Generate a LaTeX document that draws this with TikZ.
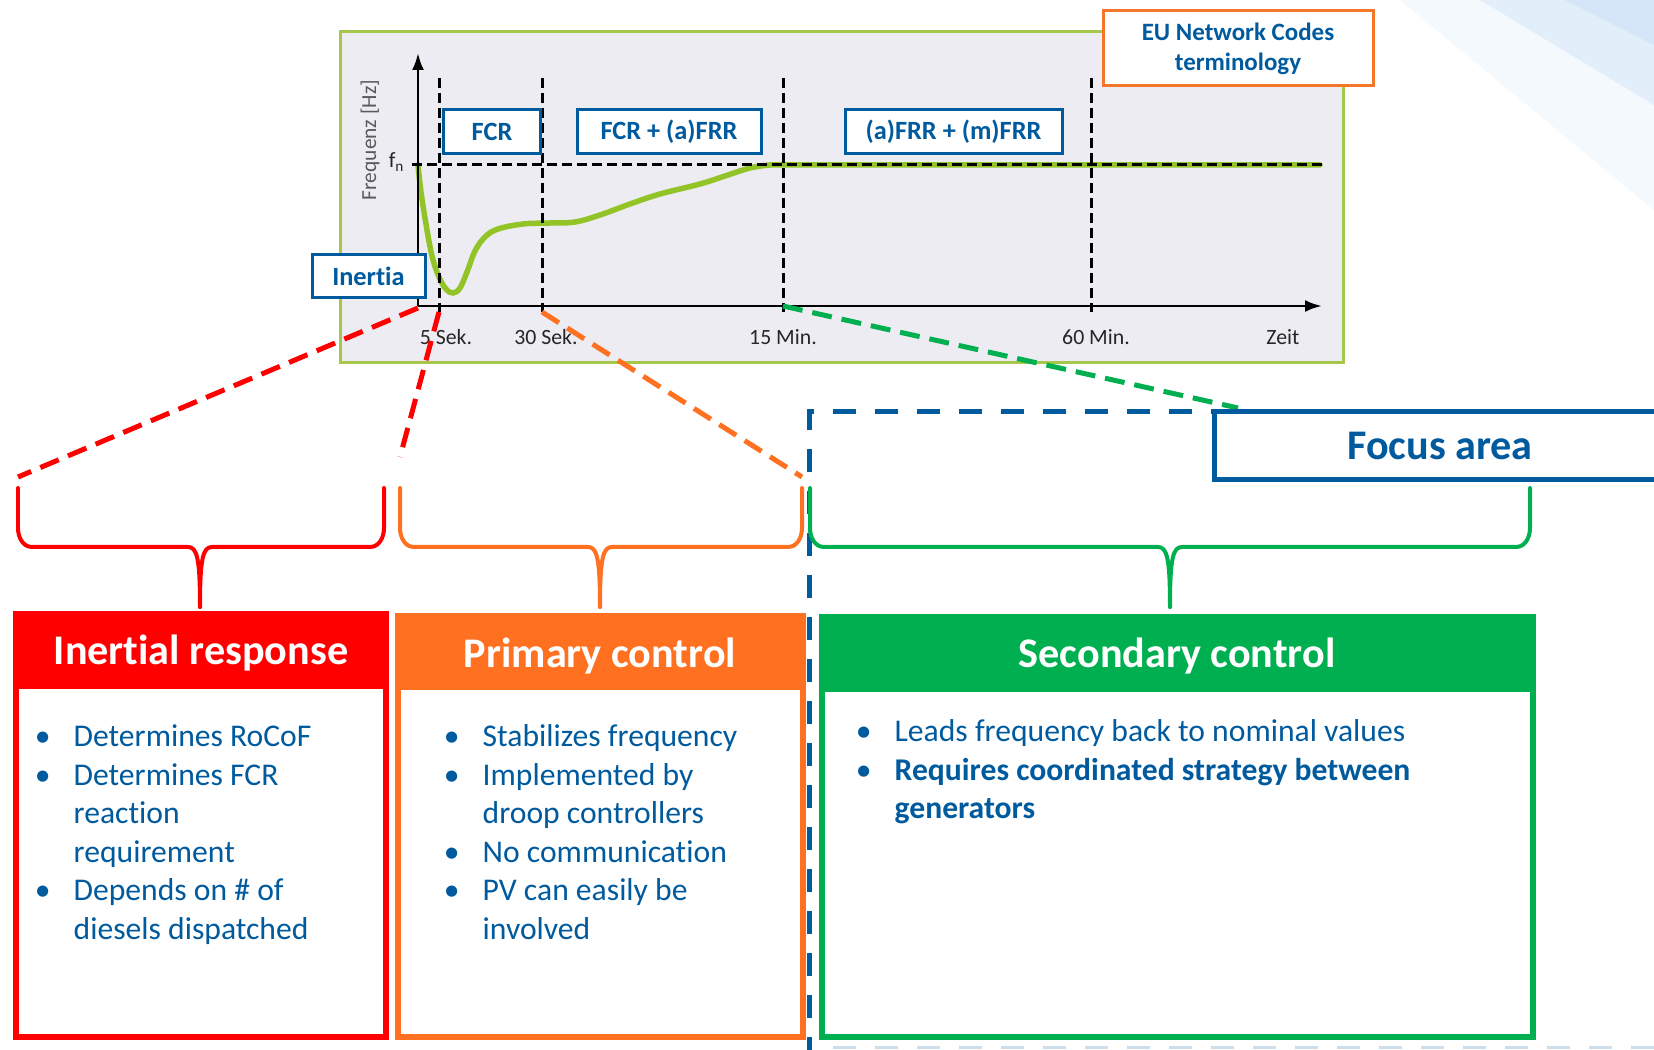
\documentclass[tikz,border=0pt]{standalone}
\usepackage{fontspec}
\setmainfont{Carlito}[Ligatures=CommonOff]
\usetikzlibrary{arrows.meta,calc,positioning}

% Farben
\definecolor{ublue}{RGB}{0,90,158}
\definecolor{cred}{RGB}{255,0,0}
\definecolor{corange}{RGB}{255,113,32}
\definecolor{cgreen}{RGB}{0,176,80}
\definecolor{curvelime}{RGB}{146,196,40}
\definecolor{panelgreen}{RGB}{165,200,75}
\definecolor{panelgray}{RGB}{236,236,242}
\definecolor{euorange}{RGB}{245,118,40}
\definecolor{swoosh}{RGB}{226,238,250}
\definecolor{swooshdark}{RGB}{212,230,247}

\newcommand{\bulletmark}{\makebox[2mm]{\textbullet}}
% geschweifte Klammer: Farbe, links, Mitte, rechts
\newcommand{\curlybrace}[4]{%
  \draw[bracestroke, #1] (#2,488) -- (#2,528) to[out=-90,in=180] (#2+14,547) -- (#3-12,547)
    .. controls (#3-3,547) and (#3,558) .. (#3,607);
  \draw[bracestroke, #1] (#4,488) -- (#4,528) to[out=-90,in=0] (#4-14,547) -- (#3+12,547)
    .. controls (#3+3,547) and (#3,558) .. (#3,607);}

\tikzset{
  chartbox/.style={draw=ublue, line width=0.3mm, fill=white, text=ublue,
    font=\bfseries\fontsize{7.5}{9}\selectfont, minimum height=4.4mm, inner sep=0pt},
  ticklabel/.style={anchor=base, text=black!85, font=\fontsize{6.2}{7}\selectfont},
  gridline/.style={black, line width=0.3mm, dash pattern=on 1mm off 0.5mm},
  zoomline/.style={line width=0.5mm, dash pattern=on 2mm off 1mm},
  bracestroke/.style={line width=0.4mm, line cap=round, line join=round},
  catframe/.style={line width=0.55mm},
  headtext/.style={anchor=base, text=white, font=\bfseries\fontsize{12}{14}\selectfont},
  bullets/.style={anchor=base west, inner sep=0pt, text=ublue, font=\fontsize{9}{10.95}\selectfont},
}

\begin{document}
\begin{tikzpicture}[x=0.1mm, y=-0.1mm]
  % Seitenrahmen
  \useasboundingbox (0,0) rectangle (1654,1050);
  \clip (0,0) rectangle (1654,1050);
  \fill[white] (0,0) rectangle (1654,1050);

  % --- Hintergrund oben rechts ---
  \fill[swoosh, opacity=.35] (1400,0) -- (1654,210) -- (1654,0) -- cycle;
  \fill[swoosh] (1480,0) -- (1654,105) -- (1654,0) -- cycle;
  \fill[swooshdark] (1565,0) -- (1654,45) -- (1654,0) -- cycle;

  % --- Diagramm ---
  \draw[draw=panelgreen, line width=0.3mm, fill=panelgray] (340,32) rectangle (1343,363);

  \coordinate (o) at (418,306);
  \coordinate (s5) at (439,312);
  \coordinate (s30) at (542,312);
  \coordinate (m15) at (783,306);
  \coordinate (m60) at (1091,312);

  % Frequenzverlauf
  \draw[curvelime, line width=0.55mm, line cap=round] plot[smooth, tension=0.6] coordinates {
    (418,165) (421,192) (426,224) (432,256) (439,277) (446,289) (453,293) (460,288)
    (467,272) (475,251) (485,237) (498,229) (523,224) (550,223) (575,222) (600,215)
    (630,204) (660,194) (700,184) (725,176) (750,168) (770,165) (783,165)} -- (1320,165);

  % Hilfslinien
  \draw[gridline] (412,165) -- (1323,165);
  \draw[gridline] (439,78) -- (s5);
  \draw[gridline] (542,78) -- (s30);
  \draw[gridline] (783,78) -- (m15 |- s5);
  \draw[gridline] (1091,78) -- (m60);

  % Achsen
  \draw[line width=0.27mm, -{Latex[length=1.7mm,width=1.2mm]}] (o) -- (1322,306);
  \draw[line width=0.27mm, -{Latex[length=1.7mm,width=1.2mm]}] (o) -- (418,53);

  \node[rotate=90, text=black!65, font=\fontsize{6.1}{7}\selectfont] (ylabel) at (370,140) {Frequenz [Hz]};
  \node[anchor=base, text=black!85, font=\fontsize{6.2}{7}\selectfont] (fn) at (397,168) {f\textsubscript{n}};

  \node[ticklabel] (t5) at (446,345) {5 Sek.};
  \node[ticklabel] (t30) at (546,345) {30 Sek.};
  \node[ticklabel] (t15) at (783,345) {15 Min.};
  \node[ticklabel] (t60) at (1096,345) {60 Min.};
  \node[ticklabel] (zeit) at (1283,345) {Zeit};

  % Beschriftungen im Diagramm
  \node[chartbox, minimum width=9.7mm] (fcr) at (492,132) {FCR};
  \node[chartbox, minimum width=18.4mm] (fcrafrr) at (669,132) {FCR + (a)FRR};
  \node[chartbox, minimum width=21.7mm] (afrrmfrr) at (953.5,132) {(a)FRR + (m)FRR};
  \node[chartbox, minimum width=11.3mm, minimum height=4.3mm] (inertia) at (368.5,276) {Inertia};
  \node[draw=euorange, line width=0.3mm, fill=white, text=ublue, align=center,
    font=\bfseries\fontsize{7.1}{8.5}\selectfont, minimum width=27mm, minimum height=7.5mm,
    inner sep=0pt] (eu) at (1238,48.5) {EU Network Codes\\terminology};

  % --- Fokusbereich ---
  \draw[ublue, line width=0.5mm, dash pattern=on 2.3mm off 1.9mm] (809,1060) -- (809,412) -- (1670,412);
  \draw[ublue!20, line width=0.3mm, dash pattern=on 2.3mm off 1.9mm] (833,1048) -- (1654,1048);

  % Zoomlinien
  \coordinate (redL) at (18,477);
  \coordinate (redR) at (400,457);
  \coordinate (orR) at (802,477);
  \coordinate (grR) at (1238,408);
  \draw[zoomline, cred] (418,308) -- (redL);
  \draw[zoomline, cred] (s5) -- (redR);
  \draw[zoomline, corange] (s30) -- (orR);
  \draw[zoomline, cgreen] (m15) -- (grR);

  \draw[ublue, line width=0.5mm, fill=white] (1214,412) rectangle (1680,480);
  \node[anchor=base, text=ublue, font=\bfseries\fontsize{12}{14}\selectfont] (focus) at (1440,460) {Focus area};

  % --- Klammern ---
  \curlybrace{cred}{18}{200}{384}
  \curlybrace{corange}{400}{600}{802}
  \curlybrace{cgreen}{810}{1170}{1530}

  % --- Inertial response ---
  \draw[catframe, cred] (16,614) rectangle (386,1037);
  \fill[cred] (16,614) rectangle (386,689);
  \node[headtext] (inerthead) at (201,665) {Inertial response};
  \node[bullets] (inertlist) at (32,747) {\begin{tabular}[t]{@{}l@{\hspace{2.1mm}}l@{}}
    \bulletmark & Determines RoCoF\\
    \bulletmark & Determines FCR\\
     & reaction\\
     & requirement\\
    \bulletmark & Depends on \# of\\
     & diesels dispatched
  \end{tabular}};

  % --- Primary control ---
  \draw[catframe, corange] (398,616) rectangle (803,1037);
  \fill[corange] (398,616) rectangle (803,690);
  \node[headtext] (primhead) at (600,668) {Primary control};
  \node[bullets] (primlist) at (441,747) {\begin{tabular}[t]{@{}l@{\hspace{2.1mm}}l@{}}
    \bulletmark & Stabilizes frequency\\
    \bulletmark & Implemented by\\
     & droop controllers\\
    \bulletmark & No communication\\
    \bulletmark & PV can easily be\\
     & involved
  \end{tabular}};

  % --- Secondary control ---
  \draw[catframe, cgreen] (822,617) rectangle (1533,1037);
  \fill[cgreen] (822,617) rectangle (1533,692);
  \node[headtext] (sechead) at (1177,668) {Secondary control};
  \node[bullets] (seclist) at (853,742) {\begin{tabular}[t]{@{}l@{\hspace{2.1mm}}l@{}}
    \bulletmark & Leads frequency back to nominal values\\
    \bulletmark & \textbf{Requires coordinated strategy between}\\
     & \textbf{generators}
  \end{tabular}};
\end{tikzpicture}
\end{document}
